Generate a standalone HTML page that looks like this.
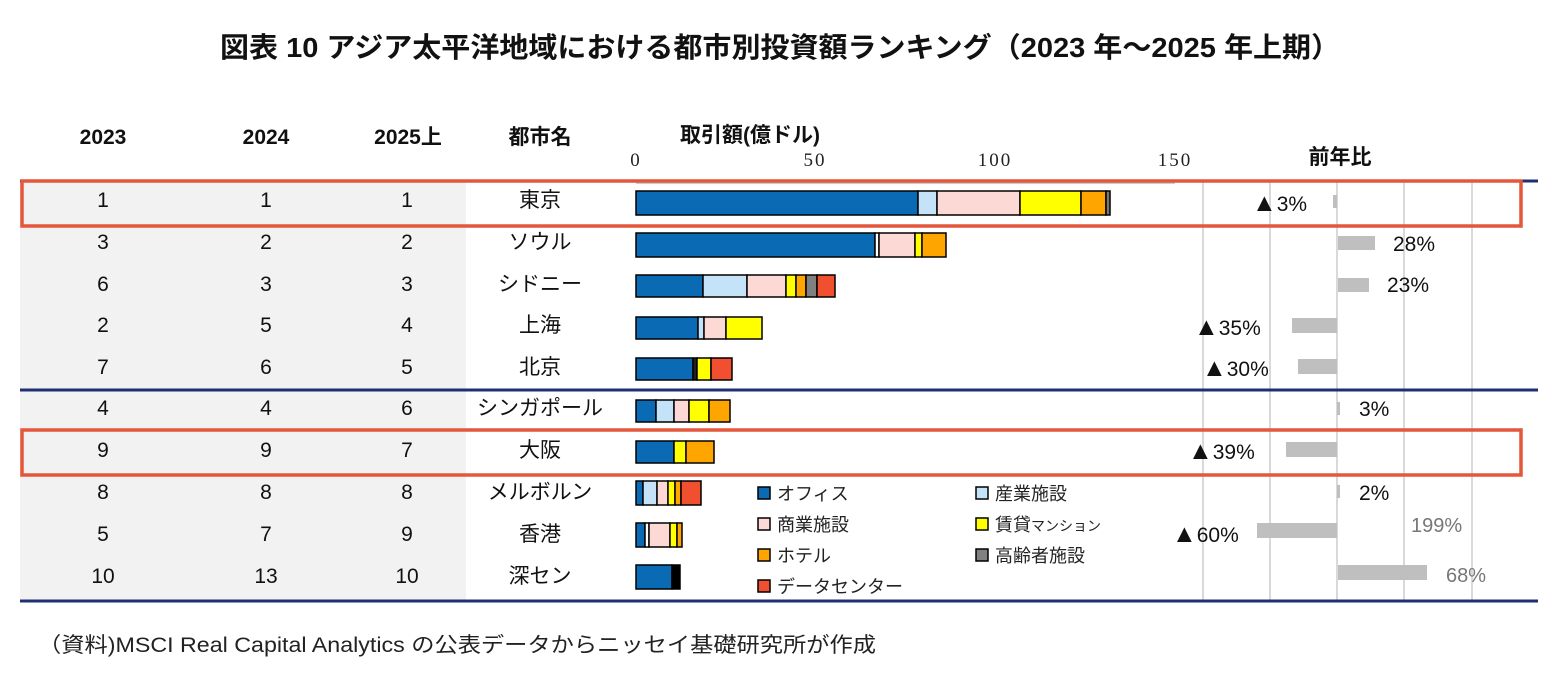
<!DOCTYPE html>
<html><head><meta charset="utf-8"><style>
body{margin:0;background:#fff;}
svg{display:block;font-family:"Liberation Sans","Noto Sans CJK JP",sans-serif;}
</style></head><body>
<svg width="1561" height="693" viewBox="0 0 1561 693" xmlns="http://www.w3.org/2000/svg">
<text x="780" y="57" text-anchor="middle" font-size="28" font-weight="bold" fill="#111" textLength="1120" lengthAdjust="spacingAndGlyphs">図表 10  アジア太平洋地域における都市別投資額ランキング（2023 年～2025 年上期）</text>
<g font-size="21" font-weight="bold" fill="#111" text-anchor="middle">
<text x="103" y="144">2023</text><text x="266" y="144">2024</text><text x="408" y="144">2025上</text><text x="540" y="144">都市名</text>
<text x="750" y="142">取引額(億ドル)</text><text x="1340" y="164">前年比</text></g>
<g font-size="19" fill="#222" text-anchor="middle" font-family="Liberation Serif,serif" letter-spacing="2">
<text x="636" y="166">0</text><text x="815" y="166">50</text><text x="995" y="166">100</text><text x="1175" y="166">150</text></g>
<rect x="20" y="181" width="446" height="420" fill="#f2f2f2"/>
<g stroke="#d9d9d9" stroke-width="2">
<line x1="1203" y1="181" x2="1203" y2="601"/><line x1="1270" y1="181" x2="1270" y2="601"/><line x1="1337" y1="181" x2="1337" y2="601"/><line x1="1404" y1="181" x2="1404" y2="601"/><line x1="1472" y1="181" x2="1472" y2="601"/></g>
<line x1="636" y1="183" x2="1175" y2="183" stroke="#ccc" stroke-width="2"/>
<g stroke="#1f3070" stroke-width="3"><line x1="20" y1="181" x2="1538" y2="181"/><line x1="20" y1="390" x2="1538" y2="390"/><line x1="20" y1="601" x2="1538" y2="601"/></g>
<g font-size="21" fill="#111" text-anchor="middle">
<text x="103" y="207">1</text><text x="266" y="207">1</text><text x="407" y="207">1</text><text x="540" y="207">東京</text>
<text x="103" y="249">3</text><text x="266" y="249">2</text><text x="407" y="249">2</text><text x="540" y="249">ソウル</text>
<text x="103" y="291">6</text><text x="266" y="291">3</text><text x="407" y="291">3</text><text x="540" y="291">シドニー</text>
<text x="103" y="332">2</text><text x="266" y="332">5</text><text x="407" y="332">4</text><text x="540" y="332">上海</text>
<text x="103" y="374">7</text><text x="266" y="374">6</text><text x="407" y="374">5</text><text x="540" y="374">北京</text>
<text x="103" y="415">4</text><text x="266" y="415">4</text><text x="407" y="415">6</text><text x="540" y="415">シンガポール</text>
<text x="103" y="457">9</text><text x="266" y="457">9</text><text x="407" y="457">7</text><text x="540" y="457">大阪</text>
<text x="103" y="499">8</text><text x="266" y="499">8</text><text x="407" y="499">8</text><text x="540" y="499">メルボルン</text>
<text x="103" y="541">5</text><text x="266" y="541">7</text><text x="407" y="541">9</text><text x="540" y="541">香港</text>
<text x="103" y="583">10</text><text x="266" y="583">13</text><text x="407" y="583">10</text><text x="540" y="583">深セン</text></g>
<g stroke="#000" stroke-width="1.5">
<rect x="636" y="191" width="282" height="24" fill="#0a6ab4"/><rect x="918" y="191" width="19" height="24" fill="#c5e3f8"/><rect x="937" y="191" width="83" height="24" fill="#fcd9d4"/><rect x="1020" y="191" width="61" height="24" fill="#ffff00"/><rect x="1081" y="191" width="25" height="24" fill="#ffa500"/><rect x="1106" y="191" width="4" height="24" fill="#777"/>
<rect x="636" y="233" width="239" height="24" fill="#0a6ab4"/><rect x="875" y="233" width="4" height="24" fill="#fff"/><rect x="879" y="233" width="36" height="24" fill="#fcd9d4"/><rect x="915" y="233" width="7" height="24" fill="#ffff00"/><rect x="922" y="233" width="24" height="24" fill="#ffa500"/>
<rect x="636" y="275" width="67" height="22" fill="#0a6ab4"/><rect x="703" y="275" width="44" height="22" fill="#c5e3f8"/><rect x="747" y="275" width="39" height="22" fill="#fcd9d4"/><rect x="786" y="275" width="10" height="22" fill="#ffff00"/><rect x="796" y="275" width="10" height="22" fill="#ffa500"/><rect x="806" y="275" width="11" height="22" fill="#808080"/><rect x="817" y="275" width="18" height="22" fill="#f05030"/>
<rect x="636" y="317" width="62" height="22" fill="#0a6ab4"/><rect x="698" y="317" width="6" height="22" fill="#c5e3f8"/><rect x="704" y="317" width="22" height="22" fill="#fcd9d4"/><rect x="726" y="317" width="36" height="22" fill="#ffff00"/>
<rect x="636" y="358" width="57" height="22" fill="#0a6ab4"/><rect x="693" y="358" width="4" height="22" fill="#222"/><rect x="697" y="358" width="14" height="22" fill="#ffff00"/><rect x="711" y="358" width="21" height="22" fill="#f05030"/>
<rect x="636" y="400" width="20" height="22" fill="#0a6ab4"/><rect x="656" y="400" width="18" height="22" fill="#c5e3f8"/><rect x="674" y="400" width="15" height="22" fill="#fcd9d4"/><rect x="689" y="400" width="20" height="22" fill="#ffff00"/><rect x="709" y="400" width="21" height="22" fill="#ffa500"/>
<rect x="636" y="441" width="38" height="22" fill="#0a6ab4"/><rect x="674" y="441" width="12" height="22" fill="#ffff00"/><rect x="686" y="441" width="28" height="22" fill="#ffa500"/>
<rect x="636" y="481" width="7" height="24" fill="#0a6ab4"/><rect x="643" y="481" width="14" height="24" fill="#c5e3f8"/><rect x="657" y="481" width="11" height="24" fill="#fcd9d4"/><rect x="668" y="481" width="7" height="24" fill="#ffff00"/><rect x="675" y="481" width="6" height="24" fill="#ffa500"/><rect x="681" y="481" width="20" height="24" fill="#f05030"/>
<rect x="636" y="523" width="9" height="24" fill="#0a6ab4"/><rect x="645" y="523" width="4" height="24" fill="#fff"/><rect x="649" y="523" width="21" height="24" fill="#fcd9d4"/><rect x="670" y="523" width="7" height="24" fill="#ffff00"/><rect x="677" y="523" width="5" height="24" fill="#ffa500"/>
<rect x="636" y="565" width="36" height="24" fill="#0a6ab4"/><rect x="672" y="565" width="8" height="24" fill="#000"/>
</g>
<g fill="#bfbfbf">
<rect x="1333" y="195" width="4" height="13"/><rect x="1338" y="236" width="37" height="14"/><rect x="1338" y="278" width="31" height="14"/><rect x="1292" y="318" width="45" height="15"/><rect x="1298" y="359" width="39" height="15"/><rect x="1337" y="402" width="3" height="13"/><rect x="1286" y="442" width="51" height="15"/><rect x="1337" y="485" width="3" height="13"/><rect x="1257" y="523" width="80" height="15"/><rect x="1338" y="565" width="89" height="15"/></g>
<g font-size="21" fill="#111">
<text x="1252" y="211"><tspan font-size="25">▲</tspan>3%</text><text x="1393" y="251">28%</text><text x="1387" y="292">23%</text><text x="1194" y="335"><tspan font-size="25">▲</tspan>35%</text><text x="1202" y="376"><tspan font-size="25">▲</tspan>30%</text><text x="1359" y="416">3%</text><text x="1188" y="459"><tspan font-size="25">▲</tspan>39%</text><text x="1359" y="500">2%</text><text x="1172" y="542"><tspan font-size="25">▲</tspan>60%</text></g>
<g font-size="20" fill="#777"><text x="1411" y="532">199%</text><text x="1446" y="582">68%</text></g>
<g stroke="#e4573a" stroke-width="3.5" fill="none"><rect x="22" y="181" width="1499" height="45"/><rect x="22" y="430" width="1499" height="45"/></g>
<g stroke="#000" stroke-width="1.5">
<rect x="758" y="487" width="12" height="12" fill="#0a6ab4"/><rect x="976" y="487" width="12" height="12" fill="#c5e3f8"/>
<rect x="758" y="518" width="12" height="12" fill="#fcd9d4"/><rect x="976" y="518" width="12" height="12" fill="#ffff00"/>
<rect x="758" y="549" width="12" height="12" fill="#ffa500"/><rect x="976" y="549" width="12" height="12" fill="#808080"/>
<rect x="758" y="580" width="12" height="12" fill="#f05030"/></g>
<g font-size="18" fill="#222">
<text x="777" y="500">オフィス</text><text x="995" y="500">産業施設</text>
<text x="777" y="531">商業施設</text><text x="995" y="531">賃貸<tspan font-size="14">マンション</tspan></text>
<text x="777" y="562">ホテル</text><text x="995" y="562">高齢者施設</text>
<text x="777" y="593">データセンター</text></g>
<text x="38" y="652" font-size="21" fill="#222" textLength="838" lengthAdjust="spacingAndGlyphs">（資料)MSCI Real Capital Analytics  の公表データからニッセイ基礎研究所が作成</text>
</svg>
</body></html>
